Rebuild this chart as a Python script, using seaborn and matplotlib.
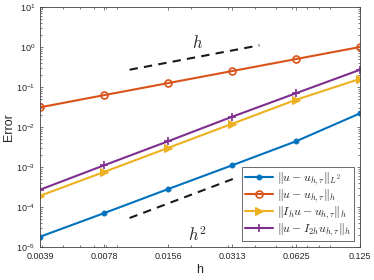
import numpy as np
import pandas as pd
import matplotlib.pyplot as plt
import matplotlib.ticker as mticker
import seaborn as sns

sns.set_theme(style="ticks")
plt.rcParams.update({
    'font.family': ['Liberation Sans', 'DejaVu Sans'],
    'mathtext.fontset': 'cm',
    'xtick.direction': 'in',
    'ytick.direction': 'in',
    'axes.edgecolor': '#404040',
    'axes.linewidth': 0.6,
})

# data
h = [0.00390625, 0.0078125, 0.015625, 0.03125, 0.0625, 0.125]
h_labels = ['0.0039', '0.0078', '0.0156', '0.0313', '0.0625', '0.125']
err_l2 = [1.8e-5, 7.0e-5, 2.8e-4, 1.1e-3, 4.4e-3, 0.022]
err_h = [0.031, 0.0625, 0.125, 0.25, 0.5, 1.0]
err_ih = [1.9e-4, 7.5e-4, 3.0e-3, 0.012, 0.048, 0.16]
err_i2h = [2.7e-4, 1.1e-3, 4.4e-3, 0.018, 0.07, 0.27]

# reference slopes
ref_h_lin = [0.0103, 0.042]
ref_lin = [0.27, 1.1]
ref_h_quad = [0.0103, 0.0315]
ref_quad = [5.3e-5, 5.0e-4]

series = [
    (err_l2, r'$\|u-u_{h,\tau}\|_{L^2}$', '#0072BD', dict(marker='o', markersize=3.5)),
    (err_h, r'$\|u-u_{h,\tau}\|_{h}$', '#D95319',
     dict(marker='o', markersize=5, markerfacecolor='none', markeredgewidth=1.2)),
    (err_ih, r'$\|I_h u-u_{h,\tau}\|_{h}$', '#EDB120', dict(marker='>', markersize=6)),
    (err_i2h, r'$\|u-I_{2h} u_{h,\tau}\|_{h}$', '#7E2F8E',
     dict(marker='+', markersize=6, markeredgewidth=1.2)),
]

fig = plt.figure(figsize=(3.74, 2.8), dpi=100)
ax = fig.add_axes([0.107, 0.118, 0.856, 0.857])

for vals, label, color, mk in series:
    df = pd.DataFrame({'h': h, 'err': vals})
    sns.lineplot(data=df, x='h', y='err', ax=ax, color=color, label=label,
                 linewidth=1.5, markeredgecolor=color, **mk)

ax.plot(ref_h_lin, ref_lin, 'k--', linewidth=1.5, dashes=(4, 3))
ax.plot(ref_h_quad, ref_quad, 'k--', linewidth=1.5, dashes=(4, 3))
ax.text(0.0215, 1.3, r'$h$', fontsize=12, ha='center', va='center')
ax.text(0.0215, 2.0e-5, r'$h^2$', fontsize=12, ha='center', va='center')

ax.set_xscale('log')
ax.set_yscale('log')
ax.set_xlim(h[0], h[-1])
ax.set_ylim(1e-5, 10)
ax.set_xticks(h)
ax.set_xticklabels(h_labels)
ax.xaxis.set_minor_formatter(mticker.NullFormatter())
ax.set_yticks([1e-5, 1e-4, 1e-3, 1e-2, 1e-1, 1, 10])
ax.yaxis.set_minor_locator(mticker.LogLocator(base=10, subs=np.arange(2, 10), numticks=20))
ax.tick_params(which='both', top=True, right=True, labelsize=6.5, colors='#404040',
               labelcolor='#262626', length=2.5, width=0.5)
ax.tick_params(which='minor', length=1.5)
ax.set_xlabel('h', fontsize=9, labelpad=2)
ax.set_ylabel('Error', fontsize=9, labelpad=1)

leg = ax.legend(loc='lower right', fontsize=8.6, frameon=True, fancybox=False,
                edgecolor='#262626', borderpad=0.25, labelspacing=0.05,
                handlelength=2.4, handletextpad=0.3, borderaxespad=0.5)
leg.get_frame().set_linewidth(0.6)

fig.savefig('out.png', dpi=100)
